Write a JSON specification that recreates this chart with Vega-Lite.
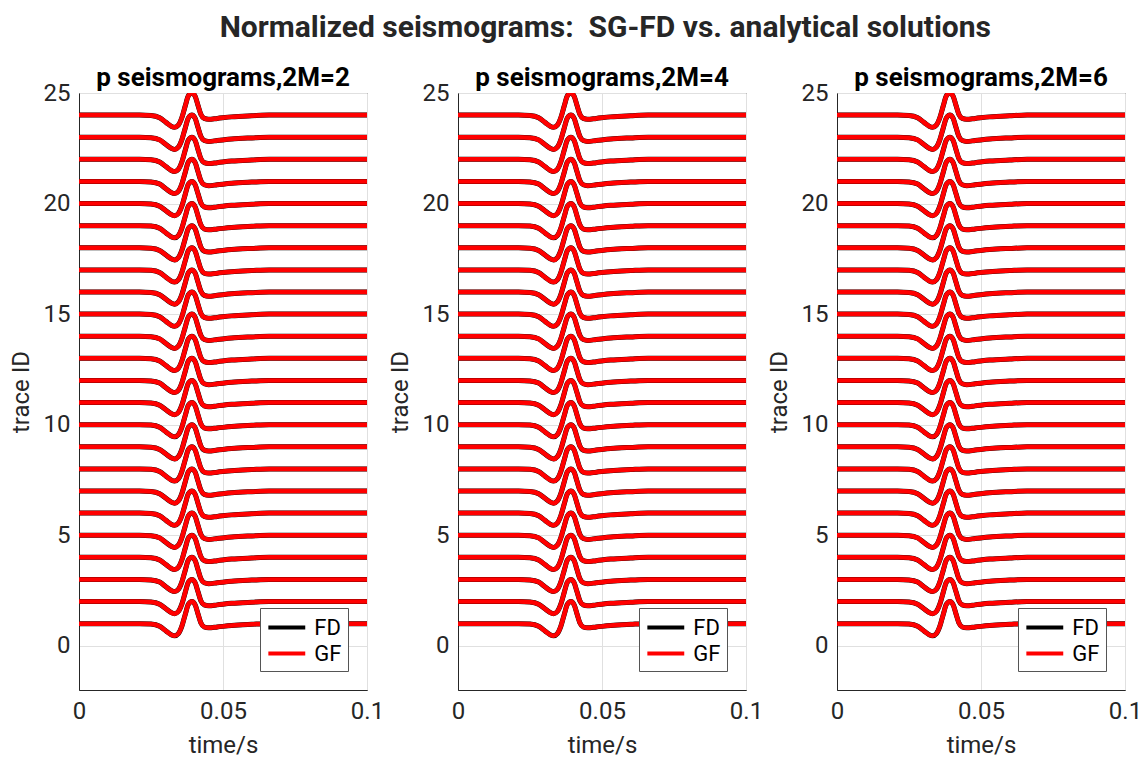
{
"$schema": "https://vega.github.io/schema/vega-lite/v6.json",
"padding": {"left": 8, "top": 12, "right": 5, "bottom": 2},
"bounds": "flush",
"spacing": 91,
"config": {
  "font": "Roboto",
  "view": {"stroke": "#262626", "strokeWidth": 1},
  "axis": {"labelFontSize": 24, "titleFontSize": 24, "labelColor": "#262626", "titleColor": "#262626", "titleFontWeight": "normal", "domainColor": "#262626", "gridColor": "#e0e0e0", "ticks": false, "labelPadding": 9, "labelFlush": false}
},
"title": {"text": "Normalized seismograms:\u00a0 SG-FD vs. analytical solutions", "fontSize": 30, "fontWeight": "bold", "color": "#262626", "anchor": "middle", "dx": 30, "offset": 22},
"resolve": {"scale": {"color": "independent"}},
"data": {"values": [
{"k":1,"t":0,"y":1},{"k":1,"t":0.021,"y":1},{"k":1,"t":0.025,"y":0.98},{"k":1,"t":0.028,"y":0.88},{"k":1,"t":0.0303,"y":0.66},{"k":1,"t":0.032,"y":0.5},{"k":1,"t":0.0332,"y":0.45},{"k":1,"t":0.0345,"y":0.55},{"k":1,"t":0.0357,"y":0.88},{"k":1,"t":0.0369,"y":1.42},{"k":1,"t":0.038,"y":1.88},{"k":1,"t":0.0392,"y":2},{"k":1,"t":0.0403,"y":1.86},{"k":1,"t":0.0413,"y":1.45},{"k":1,"t":0.0423,"y":1.04},{"k":1,"t":0.0435,"y":0.85},{"k":1,"t":0.045,"y":0.81},{"k":1,"t":0.048,"y":0.85},{"k":1,"t":0.053,"y":0.92},{"k":1,"t":0.06,"y":0.97},{"k":1,"t":0.066,"y":1},{"k":1,"t":0.1,"y":1},
{"k":2,"t":0,"y":2},{"k":2,"t":0.021,"y":2},{"k":2,"t":0.025,"y":1.98},{"k":2,"t":0.028,"y":1.88},{"k":2,"t":0.0303,"y":1.66},{"k":2,"t":0.032,"y":1.5},{"k":2,"t":0.0332,"y":1.45},{"k":2,"t":0.0345,"y":1.55},{"k":2,"t":0.0357,"y":1.88},{"k":2,"t":0.0369,"y":2.42},{"k":2,"t":0.038,"y":2.88},{"k":2,"t":0.0392,"y":3},{"k":2,"t":0.0403,"y":2.86},{"k":2,"t":0.0413,"y":2.45},{"k":2,"t":0.0423,"y":2.04},{"k":2,"t":0.0435,"y":1.85},{"k":2,"t":0.045,"y":1.81},{"k":2,"t":0.048,"y":1.85},{"k":2,"t":0.053,"y":1.92},{"k":2,"t":0.06,"y":1.97},{"k":2,"t":0.066,"y":2},{"k":2,"t":0.1,"y":2},
{"k":3,"t":0,"y":3},{"k":3,"t":0.021,"y":3},{"k":3,"t":0.025,"y":2.98},{"k":3,"t":0.028,"y":2.88},{"k":3,"t":0.0303,"y":2.66},{"k":3,"t":0.032,"y":2.5},{"k":3,"t":0.0332,"y":2.45},{"k":3,"t":0.0345,"y":2.55},{"k":3,"t":0.0357,"y":2.88},{"k":3,"t":0.0369,"y":3.42},{"k":3,"t":0.038,"y":3.88},{"k":3,"t":0.0392,"y":4},{"k":3,"t":0.0403,"y":3.86},{"k":3,"t":0.0413,"y":3.45},{"k":3,"t":0.0423,"y":3.04},{"k":3,"t":0.0435,"y":2.85},{"k":3,"t":0.045,"y":2.81},{"k":3,"t":0.048,"y":2.85},{"k":3,"t":0.053,"y":2.92},{"k":3,"t":0.06,"y":2.97},{"k":3,"t":0.066,"y":3},{"k":3,"t":0.1,"y":3},
{"k":4,"t":0,"y":4},{"k":4,"t":0.021,"y":4},{"k":4,"t":0.025,"y":3.98},{"k":4,"t":0.028,"y":3.88},{"k":4,"t":0.0303,"y":3.66},{"k":4,"t":0.032,"y":3.5},{"k":4,"t":0.0332,"y":3.45},{"k":4,"t":0.0345,"y":3.55},{"k":4,"t":0.0357,"y":3.88},{"k":4,"t":0.0369,"y":4.42},{"k":4,"t":0.038,"y":4.88},{"k":4,"t":0.0392,"y":5},{"k":4,"t":0.0403,"y":4.86},{"k":4,"t":0.0413,"y":4.45},{"k":4,"t":0.0423,"y":4.04},{"k":4,"t":0.0435,"y":3.85},{"k":4,"t":0.045,"y":3.81},{"k":4,"t":0.048,"y":3.85},{"k":4,"t":0.053,"y":3.92},{"k":4,"t":0.06,"y":3.97},{"k":4,"t":0.066,"y":4},{"k":4,"t":0.1,"y":4},
{"k":5,"t":0,"y":5},{"k":5,"t":0.021,"y":5},{"k":5,"t":0.025,"y":4.98},{"k":5,"t":0.028,"y":4.88},{"k":5,"t":0.0303,"y":4.66},{"k":5,"t":0.032,"y":4.5},{"k":5,"t":0.0332,"y":4.45},{"k":5,"t":0.0345,"y":4.55},{"k":5,"t":0.0357,"y":4.88},{"k":5,"t":0.0369,"y":5.42},{"k":5,"t":0.038,"y":5.88},{"k":5,"t":0.0392,"y":6},{"k":5,"t":0.0403,"y":5.86},{"k":5,"t":0.0413,"y":5.45},{"k":5,"t":0.0423,"y":5.04},{"k":5,"t":0.0435,"y":4.85},{"k":5,"t":0.045,"y":4.81},{"k":5,"t":0.048,"y":4.85},{"k":5,"t":0.053,"y":4.92},{"k":5,"t":0.06,"y":4.97},{"k":5,"t":0.066,"y":5},{"k":5,"t":0.1,"y":5},
{"k":6,"t":0,"y":6},{"k":6,"t":0.021,"y":6},{"k":6,"t":0.025,"y":5.98},{"k":6,"t":0.028,"y":5.88},{"k":6,"t":0.0303,"y":5.66},{"k":6,"t":0.032,"y":5.5},{"k":6,"t":0.0332,"y":5.45},{"k":6,"t":0.0345,"y":5.55},{"k":6,"t":0.0357,"y":5.88},{"k":6,"t":0.0369,"y":6.42},{"k":6,"t":0.038,"y":6.88},{"k":6,"t":0.0392,"y":7},{"k":6,"t":0.0403,"y":6.86},{"k":6,"t":0.0413,"y":6.45},{"k":6,"t":0.0423,"y":6.04},{"k":6,"t":0.0435,"y":5.85},{"k":6,"t":0.045,"y":5.81},{"k":6,"t":0.048,"y":5.85},{"k":6,"t":0.053,"y":5.92},{"k":6,"t":0.06,"y":5.97},{"k":6,"t":0.066,"y":6},{"k":6,"t":0.1,"y":6},
{"k":7,"t":0,"y":7},{"k":7,"t":0.021,"y":7},{"k":7,"t":0.025,"y":6.98},{"k":7,"t":0.028,"y":6.88},{"k":7,"t":0.0303,"y":6.66},{"k":7,"t":0.032,"y":6.5},{"k":7,"t":0.0332,"y":6.45},{"k":7,"t":0.0345,"y":6.55},{"k":7,"t":0.0357,"y":6.88},{"k":7,"t":0.0369,"y":7.42},{"k":7,"t":0.038,"y":7.88},{"k":7,"t":0.0392,"y":8},{"k":7,"t":0.0403,"y":7.86},{"k":7,"t":0.0413,"y":7.45},{"k":7,"t":0.0423,"y":7.04},{"k":7,"t":0.0435,"y":6.85},{"k":7,"t":0.045,"y":6.81},{"k":7,"t":0.048,"y":6.85},{"k":7,"t":0.053,"y":6.92},{"k":7,"t":0.06,"y":6.97},{"k":7,"t":0.066,"y":7},{"k":7,"t":0.1,"y":7},
{"k":8,"t":0,"y":8},{"k":8,"t":0.021,"y":8},{"k":8,"t":0.025,"y":7.98},{"k":8,"t":0.028,"y":7.88},{"k":8,"t":0.0303,"y":7.66},{"k":8,"t":0.032,"y":7.5},{"k":8,"t":0.0332,"y":7.45},{"k":8,"t":0.0345,"y":7.55},{"k":8,"t":0.0357,"y":7.88},{"k":8,"t":0.0369,"y":8.42},{"k":8,"t":0.038,"y":8.88},{"k":8,"t":0.0392,"y":9},{"k":8,"t":0.0403,"y":8.86},{"k":8,"t":0.0413,"y":8.45},{"k":8,"t":0.0423,"y":8.04},{"k":8,"t":0.0435,"y":7.85},{"k":8,"t":0.045,"y":7.81},{"k":8,"t":0.048,"y":7.85},{"k":8,"t":0.053,"y":7.92},{"k":8,"t":0.06,"y":7.97},{"k":8,"t":0.066,"y":8},{"k":8,"t":0.1,"y":8},
{"k":9,"t":0,"y":9},{"k":9,"t":0.021,"y":9},{"k":9,"t":0.025,"y":8.98},{"k":9,"t":0.028,"y":8.88},{"k":9,"t":0.0303,"y":8.66},{"k":9,"t":0.032,"y":8.5},{"k":9,"t":0.0332,"y":8.45},{"k":9,"t":0.0345,"y":8.55},{"k":9,"t":0.0357,"y":8.88},{"k":9,"t":0.0369,"y":9.42},{"k":9,"t":0.038,"y":9.88},{"k":9,"t":0.0392,"y":10},{"k":9,"t":0.0403,"y":9.86},{"k":9,"t":0.0413,"y":9.45},{"k":9,"t":0.0423,"y":9.04},{"k":9,"t":0.0435,"y":8.85},{"k":9,"t":0.045,"y":8.81},{"k":9,"t":0.048,"y":8.85},{"k":9,"t":0.053,"y":8.92},{"k":9,"t":0.06,"y":8.97},{"k":9,"t":0.066,"y":9},{"k":9,"t":0.1,"y":9},
{"k":10,"t":0,"y":10},{"k":10,"t":0.021,"y":10},{"k":10,"t":0.025,"y":9.98},{"k":10,"t":0.028,"y":9.88},{"k":10,"t":0.0303,"y":9.66},{"k":10,"t":0.032,"y":9.5},{"k":10,"t":0.0332,"y":9.45},{"k":10,"t":0.0345,"y":9.55},{"k":10,"t":0.0357,"y":9.88},{"k":10,"t":0.0369,"y":10.42},{"k":10,"t":0.038,"y":10.88},{"k":10,"t":0.0392,"y":11},{"k":10,"t":0.0403,"y":10.86},{"k":10,"t":0.0413,"y":10.45},{"k":10,"t":0.0423,"y":10.04},{"k":10,"t":0.0435,"y":9.85},{"k":10,"t":0.045,"y":9.81},{"k":10,"t":0.048,"y":9.85},{"k":10,"t":0.053,"y":9.92},{"k":10,"t":0.06,"y":9.97},{"k":10,"t":0.066,"y":10},{"k":10,"t":0.1,"y":10},
{"k":11,"t":0,"y":11},{"k":11,"t":0.021,"y":11},{"k":11,"t":0.025,"y":10.98},{"k":11,"t":0.028,"y":10.88},{"k":11,"t":0.0303,"y":10.66},{"k":11,"t":0.032,"y":10.5},{"k":11,"t":0.0332,"y":10.45},{"k":11,"t":0.0345,"y":10.55},{"k":11,"t":0.0357,"y":10.88},{"k":11,"t":0.0369,"y":11.42},{"k":11,"t":0.038,"y":11.88},{"k":11,"t":0.0392,"y":12},{"k":11,"t":0.0403,"y":11.86},{"k":11,"t":0.0413,"y":11.45},{"k":11,"t":0.0423,"y":11.04},{"k":11,"t":0.0435,"y":10.85},{"k":11,"t":0.045,"y":10.81},{"k":11,"t":0.048,"y":10.85},{"k":11,"t":0.053,"y":10.92},{"k":11,"t":0.06,"y":10.97},{"k":11,"t":0.066,"y":11},{"k":11,"t":0.1,"y":11},
{"k":12,"t":0,"y":12},{"k":12,"t":0.021,"y":12},{"k":12,"t":0.025,"y":11.98},{"k":12,"t":0.028,"y":11.88},{"k":12,"t":0.0303,"y":11.66},{"k":12,"t":0.032,"y":11.5},{"k":12,"t":0.0332,"y":11.45},{"k":12,"t":0.0345,"y":11.55},{"k":12,"t":0.0357,"y":11.88},{"k":12,"t":0.0369,"y":12.42},{"k":12,"t":0.038,"y":12.88},{"k":12,"t":0.0392,"y":13},{"k":12,"t":0.0403,"y":12.86},{"k":12,"t":0.0413,"y":12.45},{"k":12,"t":0.0423,"y":12.04},{"k":12,"t":0.0435,"y":11.85},{"k":12,"t":0.045,"y":11.81},{"k":12,"t":0.048,"y":11.85},{"k":12,"t":0.053,"y":11.92},{"k":12,"t":0.06,"y":11.97},{"k":12,"t":0.066,"y":12},{"k":12,"t":0.1,"y":12},
{"k":13,"t":0,"y":13},{"k":13,"t":0.021,"y":13},{"k":13,"t":0.025,"y":12.98},{"k":13,"t":0.028,"y":12.88},{"k":13,"t":0.0303,"y":12.66},{"k":13,"t":0.032,"y":12.5},{"k":13,"t":0.0332,"y":12.45},{"k":13,"t":0.0345,"y":12.55},{"k":13,"t":0.0357,"y":12.88},{"k":13,"t":0.0369,"y":13.42},{"k":13,"t":0.038,"y":13.88},{"k":13,"t":0.0392,"y":14},{"k":13,"t":0.0403,"y":13.86},{"k":13,"t":0.0413,"y":13.45},{"k":13,"t":0.0423,"y":13.04},{"k":13,"t":0.0435,"y":12.85},{"k":13,"t":0.045,"y":12.81},{"k":13,"t":0.048,"y":12.85},{"k":13,"t":0.053,"y":12.92},{"k":13,"t":0.06,"y":12.97},{"k":13,"t":0.066,"y":13},{"k":13,"t":0.1,"y":13},
{"k":14,"t":0,"y":14},{"k":14,"t":0.021,"y":14},{"k":14,"t":0.025,"y":13.98},{"k":14,"t":0.028,"y":13.88},{"k":14,"t":0.0303,"y":13.66},{"k":14,"t":0.032,"y":13.5},{"k":14,"t":0.0332,"y":13.45},{"k":14,"t":0.0345,"y":13.55},{"k":14,"t":0.0357,"y":13.88},{"k":14,"t":0.0369,"y":14.42},{"k":14,"t":0.038,"y":14.88},{"k":14,"t":0.0392,"y":15},{"k":14,"t":0.0403,"y":14.86},{"k":14,"t":0.0413,"y":14.45},{"k":14,"t":0.0423,"y":14.04},{"k":14,"t":0.0435,"y":13.85},{"k":14,"t":0.045,"y":13.81},{"k":14,"t":0.048,"y":13.85},{"k":14,"t":0.053,"y":13.92},{"k":14,"t":0.06,"y":13.97},{"k":14,"t":0.066,"y":14},{"k":14,"t":0.1,"y":14},
{"k":15,"t":0,"y":15},{"k":15,"t":0.021,"y":15},{"k":15,"t":0.025,"y":14.98},{"k":15,"t":0.028,"y":14.88},{"k":15,"t":0.0303,"y":14.66},{"k":15,"t":0.032,"y":14.5},{"k":15,"t":0.0332,"y":14.45},{"k":15,"t":0.0345,"y":14.55},{"k":15,"t":0.0357,"y":14.88},{"k":15,"t":0.0369,"y":15.42},{"k":15,"t":0.038,"y":15.88},{"k":15,"t":0.0392,"y":16},{"k":15,"t":0.0403,"y":15.86},{"k":15,"t":0.0413,"y":15.45},{"k":15,"t":0.0423,"y":15.04},{"k":15,"t":0.0435,"y":14.85},{"k":15,"t":0.045,"y":14.81},{"k":15,"t":0.048,"y":14.85},{"k":15,"t":0.053,"y":14.92},{"k":15,"t":0.06,"y":14.97},{"k":15,"t":0.066,"y":15},{"k":15,"t":0.1,"y":15},
{"k":16,"t":0,"y":16},{"k":16,"t":0.021,"y":16},{"k":16,"t":0.025,"y":15.98},{"k":16,"t":0.028,"y":15.88},{"k":16,"t":0.0303,"y":15.66},{"k":16,"t":0.032,"y":15.5},{"k":16,"t":0.0332,"y":15.45},{"k":16,"t":0.0345,"y":15.55},{"k":16,"t":0.0357,"y":15.88},{"k":16,"t":0.0369,"y":16.42},{"k":16,"t":0.038,"y":16.88},{"k":16,"t":0.0392,"y":17},{"k":16,"t":0.0403,"y":16.86},{"k":16,"t":0.0413,"y":16.45},{"k":16,"t":0.0423,"y":16.04},{"k":16,"t":0.0435,"y":15.85},{"k":16,"t":0.045,"y":15.81},{"k":16,"t":0.048,"y":15.85},{"k":16,"t":0.053,"y":15.92},{"k":16,"t":0.06,"y":15.97},{"k":16,"t":0.066,"y":16},{"k":16,"t":0.1,"y":16},
{"k":17,"t":0,"y":17},{"k":17,"t":0.021,"y":17},{"k":17,"t":0.025,"y":16.98},{"k":17,"t":0.028,"y":16.88},{"k":17,"t":0.0303,"y":16.66},{"k":17,"t":0.032,"y":16.5},{"k":17,"t":0.0332,"y":16.45},{"k":17,"t":0.0345,"y":16.55},{"k":17,"t":0.0357,"y":16.88},{"k":17,"t":0.0369,"y":17.42},{"k":17,"t":0.038,"y":17.88},{"k":17,"t":0.0392,"y":18},{"k":17,"t":0.0403,"y":17.86},{"k":17,"t":0.0413,"y":17.45},{"k":17,"t":0.0423,"y":17.04},{"k":17,"t":0.0435,"y":16.85},{"k":17,"t":0.045,"y":16.81},{"k":17,"t":0.048,"y":16.85},{"k":17,"t":0.053,"y":16.92},{"k":17,"t":0.06,"y":16.97},{"k":17,"t":0.066,"y":17},{"k":17,"t":0.1,"y":17},
{"k":18,"t":0,"y":18},{"k":18,"t":0.021,"y":18},{"k":18,"t":0.025,"y":17.98},{"k":18,"t":0.028,"y":17.88},{"k":18,"t":0.0303,"y":17.66},{"k":18,"t":0.032,"y":17.5},{"k":18,"t":0.0332,"y":17.45},{"k":18,"t":0.0345,"y":17.55},{"k":18,"t":0.0357,"y":17.88},{"k":18,"t":0.0369,"y":18.42},{"k":18,"t":0.038,"y":18.88},{"k":18,"t":0.0392,"y":19},{"k":18,"t":0.0403,"y":18.86},{"k":18,"t":0.0413,"y":18.45},{"k":18,"t":0.0423,"y":18.04},{"k":18,"t":0.0435,"y":17.85},{"k":18,"t":0.045,"y":17.81},{"k":18,"t":0.048,"y":17.85},{"k":18,"t":0.053,"y":17.92},{"k":18,"t":0.06,"y":17.97},{"k":18,"t":0.066,"y":18},{"k":18,"t":0.1,"y":18},
{"k":19,"t":0,"y":19},{"k":19,"t":0.021,"y":19},{"k":19,"t":0.025,"y":18.98},{"k":19,"t":0.028,"y":18.88},{"k":19,"t":0.0303,"y":18.66},{"k":19,"t":0.032,"y":18.5},{"k":19,"t":0.0332,"y":18.45},{"k":19,"t":0.0345,"y":18.55},{"k":19,"t":0.0357,"y":18.88},{"k":19,"t":0.0369,"y":19.42},{"k":19,"t":0.038,"y":19.88},{"k":19,"t":0.0392,"y":20},{"k":19,"t":0.0403,"y":19.86},{"k":19,"t":0.0413,"y":19.45},{"k":19,"t":0.0423,"y":19.04},{"k":19,"t":0.0435,"y":18.85},{"k":19,"t":0.045,"y":18.81},{"k":19,"t":0.048,"y":18.85},{"k":19,"t":0.053,"y":18.92},{"k":19,"t":0.06,"y":18.97},{"k":19,"t":0.066,"y":19},{"k":19,"t":0.1,"y":19},
{"k":20,"t":0,"y":20},{"k":20,"t":0.021,"y":20},{"k":20,"t":0.025,"y":19.98},{"k":20,"t":0.028,"y":19.88},{"k":20,"t":0.0303,"y":19.66},{"k":20,"t":0.032,"y":19.5},{"k":20,"t":0.0332,"y":19.45},{"k":20,"t":0.0345,"y":19.55},{"k":20,"t":0.0357,"y":19.88},{"k":20,"t":0.0369,"y":20.42},{"k":20,"t":0.038,"y":20.88},{"k":20,"t":0.0392,"y":21},{"k":20,"t":0.0403,"y":20.86},{"k":20,"t":0.0413,"y":20.45},{"k":20,"t":0.0423,"y":20.04},{"k":20,"t":0.0435,"y":19.85},{"k":20,"t":0.045,"y":19.81},{"k":20,"t":0.048,"y":19.85},{"k":20,"t":0.053,"y":19.92},{"k":20,"t":0.06,"y":19.97},{"k":20,"t":0.066,"y":20},{"k":20,"t":0.1,"y":20},
{"k":21,"t":0,"y":21},{"k":21,"t":0.021,"y":21},{"k":21,"t":0.025,"y":20.98},{"k":21,"t":0.028,"y":20.88},{"k":21,"t":0.0303,"y":20.66},{"k":21,"t":0.032,"y":20.5},{"k":21,"t":0.0332,"y":20.45},{"k":21,"t":0.0345,"y":20.55},{"k":21,"t":0.0357,"y":20.88},{"k":21,"t":0.0369,"y":21.42},{"k":21,"t":0.038,"y":21.88},{"k":21,"t":0.0392,"y":22},{"k":21,"t":0.0403,"y":21.86},{"k":21,"t":0.0413,"y":21.45},{"k":21,"t":0.0423,"y":21.04},{"k":21,"t":0.0435,"y":20.85},{"k":21,"t":0.045,"y":20.81},{"k":21,"t":0.048,"y":20.85},{"k":21,"t":0.053,"y":20.92},{"k":21,"t":0.06,"y":20.97},{"k":21,"t":0.066,"y":21},{"k":21,"t":0.1,"y":21},
{"k":22,"t":0,"y":22},{"k":22,"t":0.021,"y":22},{"k":22,"t":0.025,"y":21.98},{"k":22,"t":0.028,"y":21.88},{"k":22,"t":0.0303,"y":21.66},{"k":22,"t":0.032,"y":21.5},{"k":22,"t":0.0332,"y":21.45},{"k":22,"t":0.0345,"y":21.55},{"k":22,"t":0.0357,"y":21.88},{"k":22,"t":0.0369,"y":22.42},{"k":22,"t":0.038,"y":22.88},{"k":22,"t":0.0392,"y":23},{"k":22,"t":0.0403,"y":22.86},{"k":22,"t":0.0413,"y":22.45},{"k":22,"t":0.0423,"y":22.04},{"k":22,"t":0.0435,"y":21.85},{"k":22,"t":0.045,"y":21.81},{"k":22,"t":0.048,"y":21.85},{"k":22,"t":0.053,"y":21.92},{"k":22,"t":0.06,"y":21.97},{"k":22,"t":0.066,"y":22},{"k":22,"t":0.1,"y":22},
{"k":23,"t":0,"y":23},{"k":23,"t":0.021,"y":23},{"k":23,"t":0.025,"y":22.98},{"k":23,"t":0.028,"y":22.88},{"k":23,"t":0.0303,"y":22.66},{"k":23,"t":0.032,"y":22.5},{"k":23,"t":0.0332,"y":22.45},{"k":23,"t":0.0345,"y":22.55},{"k":23,"t":0.0357,"y":22.88},{"k":23,"t":0.0369,"y":23.42},{"k":23,"t":0.038,"y":23.88},{"k":23,"t":0.0392,"y":24},{"k":23,"t":0.0403,"y":23.86},{"k":23,"t":0.0413,"y":23.45},{"k":23,"t":0.0423,"y":23.04},{"k":23,"t":0.0435,"y":22.85},{"k":23,"t":0.045,"y":22.81},{"k":23,"t":0.048,"y":22.85},{"k":23,"t":0.053,"y":22.92},{"k":23,"t":0.06,"y":22.97},{"k":23,"t":0.066,"y":23},{"k":23,"t":0.1,"y":23},
{"k":24,"t":0,"y":24},{"k":24,"t":0.021,"y":24},{"k":24,"t":0.025,"y":23.98},{"k":24,"t":0.028,"y":23.88},{"k":24,"t":0.0303,"y":23.66},{"k":24,"t":0.032,"y":23.5},{"k":24,"t":0.0332,"y":23.45},{"k":24,"t":0.0345,"y":23.55},{"k":24,"t":0.0357,"y":23.88},{"k":24,"t":0.0369,"y":24.42},{"k":24,"t":0.038,"y":24.88},{"k":24,"t":0.0392,"y":25},{"k":24,"t":0.0403,"y":24.86},{"k":24,"t":0.0413,"y":24.45},{"k":24,"t":0.0423,"y":24.04},{"k":24,"t":0.0435,"y":23.85},{"k":24,"t":0.045,"y":23.81},{"k":24,"t":0.048,"y":23.85},{"k":24,"t":0.053,"y":23.92},{"k":24,"t":0.06,"y":23.97},{"k":24,"t":0.066,"y":24},{"k":24,"t":0.1,"y":24}
]},
"hconcat": [
 {"width": 288, "height": 597,
  "title": {"text": "p seismograms,2M=2", "fontSize": 26, "fontWeight": "bold", "color": "black", "frame": "group", "offset": -10},
  "encoding": {
   "x": {"field": "t", "type": "quantitative", "scale": {"domain": [0, 0.1], "nice": false}, "axis": {"values": [0, 0.05, 0.1], "format": "~g", "title": "time/s", "titlePadding": 10}},
   "y": {"field": "y", "type": "quantitative", "scale": {"domain": [-2, 25], "nice": false, "zero": false}, "axis": {"values": [0, 5, 10, 15, 20, 25], "title": "trace ID", "titlePadding": 10}},
   "detail": {"field": "k", "type": "nominal"}
  },
  "layer": [
   {"mark": {"type": "line", "interpolate": "monotone", "strokeWidth": 5, "clip": true},
    "encoding": {"color": {"datum": "FD", "type": "nominal", "scale": {"domain": ["FD", "GF"], "range": ["#000000", "#ff0000"]},
      "legend": {"title": null, "orient": "bottom-right", "offset": 19, "fillColor": "white", "strokeColor": "#555555", "padding": 6, "labelFontSize": 22, "labelColor": "black", "symbolType": "M-1.65,0H1.65", "symbolStrokeWidth": 4, "symbolSize": 500, "symbolOffset": 7.3, "rowPadding": 1, "labelOffset": 14}}}},
   {"mark": {"type": "line", "interpolate": "monotone", "strokeWidth": 4.5, "clip": true},
    "encoding": {"color": {"datum": "GF", "type": "nominal"}}}
  ]},
 {"width": 288, "height": 597,
  "title": {"text": "p seismograms,2M=4", "fontSize": 26, "fontWeight": "bold", "color": "black", "frame": "group", "offset": -10},
  "encoding": {
   "x": {"field": "t", "type": "quantitative", "scale": {"domain": [0, 0.1], "nice": false}, "axis": {"values": [0, 0.05, 0.1], "format": "~g", "title": "time/s", "titlePadding": 10}},
   "y": {"field": "y", "type": "quantitative", "scale": {"domain": [-2, 25], "nice": false, "zero": false}, "axis": {"values": [0, 5, 10, 15, 20, 25], "title": "trace ID", "titlePadding": 10}},
   "detail": {"field": "k", "type": "nominal"}
  },
  "layer": [
   {"mark": {"type": "line", "interpolate": "monotone", "strokeWidth": 5, "clip": true},
    "encoding": {"color": {"datum": "FD", "type": "nominal", "scale": {"domain": ["FD", "GF"], "range": ["#000000", "#ff0000"]},
      "legend": {"title": null, "orient": "bottom-right", "offset": 19, "fillColor": "white", "strokeColor": "#555555", "padding": 6, "labelFontSize": 22, "labelColor": "black", "symbolType": "M-1.65,0H1.65", "symbolStrokeWidth": 4, "symbolSize": 500, "symbolOffset": 7.3, "rowPadding": 1, "labelOffset": 14}}}},
   {"mark": {"type": "line", "interpolate": "monotone", "strokeWidth": 4.5, "clip": true},
    "encoding": {"color": {"datum": "GF", "type": "nominal"}}}
  ]},
 {"width": 288, "height": 597,
  "title": {"text": "p seismograms,2M=6", "fontSize": 26, "fontWeight": "bold", "color": "black", "frame": "group", "offset": -10},
  "encoding": {
   "x": {"field": "t", "type": "quantitative", "scale": {"domain": [0, 0.1], "nice": false}, "axis": {"values": [0, 0.05, 0.1], "format": "~g", "title": "time/s", "titlePadding": 10}},
   "y": {"field": "y", "type": "quantitative", "scale": {"domain": [-2, 25], "nice": false, "zero": false}, "axis": {"values": [0, 5, 10, 15, 20, 25], "title": "trace ID", "titlePadding": 10}},
   "detail": {"field": "k", "type": "nominal"}
  },
  "layer": [
   {"mark": {"type": "line", "interpolate": "monotone", "strokeWidth": 5, "clip": true},
    "encoding": {"color": {"datum": "FD", "type": "nominal", "scale": {"domain": ["FD", "GF"], "range": ["#000000", "#ff0000"]},
      "legend": {"title": null, "orient": "bottom-right", "offset": 19, "fillColor": "white", "strokeColor": "#555555", "padding": 6, "labelFontSize": 22, "labelColor": "black", "symbolType": "M-1.65,0H1.65", "symbolStrokeWidth": 4, "symbolSize": 500, "symbolOffset": 7.3, "rowPadding": 1, "labelOffset": 14}}}},
   {"mark": {"type": "line", "interpolate": "monotone", "strokeWidth": 4.5, "clip": true},
    "encoding": {"color": {"datum": "GF", "type": "nominal"}}}
  ]}
]
}
